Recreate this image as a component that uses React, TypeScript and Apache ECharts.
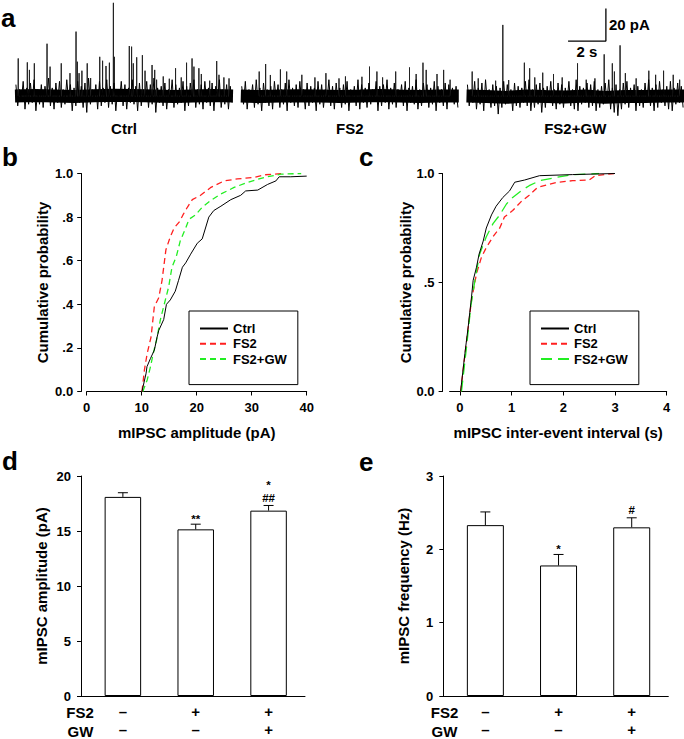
import React, { useEffect, useRef } from "react";
import * as echarts from "echarts";

const FONT = "'Liberation Sans', Arial, sans-serif";
const RED = "#ff2020";
const GREEN = "#22ee22";

// ---------- panel a : mIPSC traces (pA vs s) ----------
const traceLabels = ["Ctrl", "FS2", "FS2+GW"];
const traceSeconds = 11.5;
const ctrlBaseline = [0, 0.3, 0, -0.3, 0.2, 0.5, 0.3, 0, -0.3, 0, 0.3, 0];
const fs2Baseline = [0, -0.3, 0, 0.2, 0, -0.2, 0, 0.3, 0, -0.2, 0, 0];
const gwBaseline = [0, -0.3, -0.8, 0, -0.3, -0.5, 0, -0.8, -0.3, -0.2, 0, 0];

const ctrlHi = [7,4,9,5,8,10,4,7,6,11,5,8,9,4,10,7,5,9,6,8,11,4,7,9,5,10,6,8,4,9,7,5,10,6,8,4,9,7,11,5,6,8,4,10,7,5,9,6,8,10,4,7,9,5,8,6,10,4,7,6];
const ctrlLo = [-6,-3,-8,-5,-4,-9,-5,-7,-3,-6,-8,-4,-7,-5,-3,-9,-6,-4,-7,-10,-5,-3,-8,-6,-4,-7,-5,-9,-3,-6,-8,-4,-5,-9,-6,-3,-7,-5,-10,-4,-6,-8,-3,-7,-5,-4,-9,-6,-3,-7,-5,-8,-4,-6,-9,-3,-7,-5,-8,-4];
const fs2Hi = [6,9,4,7,10,5,8,4,6,9,7,4,8,10,5,7,9,4,8,6,5,9,7,4,10,6,8,5,7,9,4,6,10,7,5,8,4,9,6,7,10,5,8,4,7,9,5,6,10,4,8,7,5,9,6,4,8,7,5,6];
const fs2Lo = [-5,-8,-3,-7,-5,-9,-4,-6,-8,-3,-7,-5,-9,-4,-6,-7,-3,-8,-6,-4,-9,-5,-7,-3,-6,-8,-4,-7,-5,-9,-3,-6,-8,-4,-7,-5,-3,-9,-6,-4,-8,-5,-7,-3,-6,-9,-4,-5,-8,-6,-3,-7,-5,-9,-4,-6,-8,-3,-5,-7];
const gwHi = [7,4,9,5,8,10,4,7,6,5,9,7,4,8,6,5,9,10,4,7,8,5,6,9,4,8,7,5,9,4,10,6,5,8,7,9,4,6,8,10,5,7,4,8,9,5,7,6,4,8,10,5,7,9,4,6,9,5,8,6];
const gwLo = [-6,-4,-8,-5,-9,-4,-7,-6,-11,-7,-5,-4,-9,-6,-7,-4,-6,-9,-7,-5,-10,-7,-4,-6,-8,-5,-7,-4,-6,-8,-9,-5,-4,-7,-6,-9,-7,-5,-4,-8,-10,-12,-8,-5,-7,-4,-9,-6,-7,-4,-6,-9,-7,-4,-6,-8,-9,-5,-4,-7];

const ctrlSpikeT = [0.17,0.65,0.76,1.02,1.69,1.85,2.44,2.9,3.22,3.29,3.38,3.53,3.81,3.99,4.47,4.62,4.8,4.98,5.19,5.24,6.03,6.15,6.24,6.42,6.72,6.86,7.23,7.37,7.47,7.82,8.14,8.47,8.77,9.05,9.34,9.44,9.7,9.83,10.27,10.64,10.76,11.02,11.29];
const ctrlSpikeA = [23,20.6,16,20,32,18,20,14,39.4,21,14,15.5,20,11,24,21.6,18.4,20.4,57,24,30.6,30.2,20,23.7,25,15.5,19,16,10,12,10.6,17,11.4,20.4,23,18,17,13.5,9.4,21.4,13,11.4,10.8];
const fs2SpikeT = [0.97,1.31,1.56,2.09,2.42,3.22,3.91,4.49,5.18,5.52,6.39,6.79,7.18,7.48,8.17,8.9,9.25,9.61,9.78,10.35,10.7,11.04];
const fs2SpikeA = [15,19.6,12.9,16.3,15,13,11.4,14,10.8,12,11.8,18,15,11.4,15,17.5,13.5,20.4,16,13.5,16,10];
const gwSpikeT = [0.3,0.62,1.54,1.92,2.23,3.06,3.34,3.61,4.03,4.6,5.06,5.87,6.33,6.79,7.28,7.71,7.82,8.12,8.4,8.97,9.64,10.0,10.42,10.93,11.27];
const gwSpikeA = [15,10.8,9.4,43.5,9.8,20.4,17,11.4,14.3,13.5,11.4,20,10,10.8,25.5,20,15,31,14,10.8,15.5,13,15.5,13,10];

const scaleBarT = [5.37, 7.37]; // 2 s
const scaleBarPA = [33.6, 53.6]; // 20 pA

// ---------- panel b : cumulative amplitude ----------
const ampCtrl = [[10.05,0],[10.8,0.084],[10.96,0.114],[11.6,0.152],[12.3,0.19],[12.8,0.25],[13.1,0.28],[14.0,0.33],[14.5,0.40],[15.2,0.42],[16.1,0.46],[16.7,0.51],[17.4,0.57],[18.0,0.59],[18.9,0.63],[20.1,0.68],[21.0,0.70],[21.6,0.75],[22.2,0.80],[23.1,0.83],[24.4,0.85],[26.2,0.88],[28.0,0.90],[28.9,0.92],[31.1,0.924],[32.9,0.95],[34.4,0.966],[35.0,0.985],[37.1,0.985],[40,0.988]];
const ampFs2 = [[10.05,0],[10.5,0.1],[11.0,0.175],[11.7,0.25],[12.3,0.39],[13.1,0.43],[13.7,0.51],[14.4,0.65],[15.2,0.71],[15.9,0.75],[16.9,0.78],[17.5,0.81],[18.3,0.845],[19.2,0.88],[20.7,0.90],[22.5,0.935],[25.0,0.966],[27.4,0.975],[30.4,0.982],[32.3,0.994],[35.6,1.0]];
const ampGw = [[10.2,0],[11.0,0.053],[11.6,0.114],[12.1,0.175],[12.7,0.236],[13.4,0.33],[14.0,0.39],[14.9,0.48],[15.5,0.57],[16.3,0.62],[17.0,0.69],[18.0,0.75],[18.6,0.79],[19.8,0.81],[21.0,0.845],[22.5,0.875],[24.4,0.906],[26.8,0.936],[29.2,0.959],[32.3,0.982],[35.3,0.997],[39,1.0]];

// ---------- panel c : cumulative inter-event interval ----------
const intCtrl = [[0.013,0],[0.096,0.175],[0.16,0.297],[0.224,0.434],[0.256,0.51],[0.32,0.57],[0.37,0.63],[0.45,0.69],[0.51,0.75],[0.61,0.81],[0.70,0.85],[0.83,0.89],[0.96,0.92],[1.06,0.96],[1.25,0.97],[1.54,0.99],[2.18,0.995],[3.0,1.0]];
const intFs2 = [[0.013,0],[0.115,0.205],[0.224,0.42],[0.32,0.54],[0.416,0.616],[0.51,0.66],[0.64,0.71],[0.77,0.75],[0.86,0.80],[1.02,0.83],[1.18,0.87],[1.34,0.90],[1.5,0.936],[1.86,0.959],[2.18,0.967],[2.5,0.97],[2.62,0.99],[2.98,1.0]];
const intGw = [[0.03,0],[0.128,0.205],[0.21,0.39],[0.29,0.51],[0.38,0.63],[0.51,0.71],[0.64,0.77],[0.77,0.81],[0.9,0.86],[1.02,0.89],[1.18,0.92],[1.34,0.944],[1.54,0.967],[1.86,0.982],[2.18,0.994],[2.69,1.0]];

// ---------- panels d, e : bars ----------
const groups = [0, 1, 2];
const fs2Signs = ["–", "+", "+"];
const gwSigns = ["–", "–", "+"];
const ampMean = [18.1, 15.15, 16.85];
const ampSem = [0.38, 0.47, 0.47];
const ampMarks = [[], ["**"], ["##", "*"]];
const freqMean = [2.33, 1.78, 2.3];
const freqSem = [0.18, 0.15, 0.13];
const freqMarks = [[], ["*"], ["#"]];

const bold = (size: number) => ({ fontFamily: FONT, fontWeight: "bold" as const, fontSize: size, color: "#000" });

const zig = (hi: number[], lo: number[]) => {
  const n = hi.length;
  const out: number[][] = [];
  for (let i = 0; i < n; i++) {
    out.push([((i + 0.25) * traceSeconds) / n, hi[i]]);
    out.push([((i + 0.75) * traceSeconds) / n, lo[i]]);
  }
  return out;
};
const spikes = (ts: number[], as: number[]) => ts.flatMap((t, i) => [[t, 0], [t, as[i]], [t, 0]]);
const base = (b: number[]) => b.map((v, i) => [(i * traceSeconds) / (b.length - 1), v]);

function buildOption() {
  const traces = [
    { base: ctrlBaseline, hi: ctrlHi, lo: ctrlLo, t: ctrlSpikeT, a: ctrlSpikeA },
    { base: fs2Baseline, hi: fs2Hi, lo: fs2Lo, t: fs2SpikeT, a: fs2SpikeA },
    { base: gwBaseline, hi: gwHi, lo: gwLo, t: gwSpikeT, a: gwSpikeA },
  ];
  const traceLeft = [15, 240.8, 466.5];

  const grid: any[] = [];
  const xAxis: any[] = [];
  const yAxis: any[] = [];
  const series: any[] = [];

  traces.forEach((tr, k) => {
    grid.push({ left: traceLeft[k], top: 1.2, width: 218, height: 114.5 });
    xAxis.push({
      gridIndex: k, type: "value", min: 0, max: traceSeconds,
      axisLine: { show: false, onZero: false }, axisTick: { show: false }, axisLabel: { show: false }, splitLine: { show: false },
      name: traceLabels[k], nameLocation: "middle", nameGap: 5, nameTextStyle: bold(15),
    });
    yAxis.push({ gridIndex: k, type: "value", min: -12, max: 58, show: false, splitLine: { show: false } });
    series.push({ type: "line", xAxisIndex: k, yAxisIndex: k, data: base(tr.base), symbol: "none", silent: true, lineStyle: { color: "#000", width: 13 }, z: 1 });
    series.push({ type: "line", xAxisIndex: k, yAxisIndex: k, data: spikes(tr.t, tr.a), symbol: "none", silent: true, lineStyle: { color: "#222", width: 1 }, z: 2 });
    series.push({ type: "line", xAxisIndex: k, yAxisIndex: k, data: zig(tr.hi, tr.lo), symbol: "none", silent: true, lineStyle: { color: "#000", width: 1 }, z: 3 });
  });
  // scale bar
  series.push({
    type: "line", xAxisIndex: 2, yAxisIndex: 2, silent: true, symbol: "circle", symbolSize: 0,
    lineStyle: { color: "#000", width: 1.3 },
    data: [
      [scaleBarT[0], scaleBarPA[0]],
      { value: [(scaleBarT[0] + scaleBarT[1]) / 2, scaleBarPA[0]], label: { show: true, formatter: "2 s", position: "bottom", distance: 3, ...bold(15) } },
      [scaleBarT[1], scaleBarPA[0]],
      { value: [scaleBarT[1], (scaleBarPA[0] + scaleBarPA[1]) / 2], label: { show: true, formatter: "20 pA", position: "right", distance: 3, ...bold(15) } },
      [scaleBarT[1], scaleBarPA[1]],
    ],
    z: 5,
  });

  const axLine = { show: true, onZero: false, lineStyle: { color: "#000", width: 1 } };
  const axTick = { show: true, length: 4, lineStyle: { color: "#000", width: 1 } };

  // panel b (index 3)
  grid.push({ left: 86.7, top: 173.5, width: 220, height: 218 });
  xAxis.push({
    gridIndex: 3, type: "value", min: 0, max: 40, interval: 10, axisLine: axLine, axisTick: axTick,
    axisLabel: { margin: 9, ...bold(13) }, splitLine: { show: false },
    name: "mIPSC amplitude (pA)", nameLocation: "middle", nameGap: 33, nameTextStyle: bold(15),
  });
  yAxis.push({
    gridIndex: 3, type: "value", min: 0, max: 1, interval: 0.2, offset: 5.5, axisLine: axLine, axisTick: axTick,
    axisLabel: { margin: 8, ...bold(13), formatter: (v: number) => (v === 0 ? "0.0" : v === 1 ? "1.0" : "." + Math.round(v * 10)) },
    splitLine: { show: false },
    name: "Cumulative probability", nameLocation: "middle", nameGap: 31.5, nameTextStyle: bold(15),
  });
  // panel c (index 4)
  grid.push({ left: 449.6, top: 173.5, width: 217.1, height: 218 });
  xAxis.push({
    gridIndex: 4, type: "value", min: -0.2, max: 4, axisLine: axLine,
    axisTick: { ...axTick, customValues: [0, 1, 2, 3, 4] },
    axisLabel: { margin: 9, ...bold(13), customValues: [0, 1, 2, 3, 4] }, splitLine: { show: false },
    name: "mIPSC inter-event interval (s)", nameLocation: "middle", nameGap: 33, nameTextStyle: bold(15),
  });
  yAxis.push({
    gridIndex: 4, type: "value", min: 0, max: 1, interval: 0.5, offset: 7, axisLine: axLine, axisTick: axTick,
    axisLabel: { margin: 8, ...bold(13), formatter: (v: number) => (v === 0 ? "0.0" : v === 1 ? "1.0" : ".5") },
    splitLine: { show: false },
    name: "Cumulative probability", nameLocation: "middle", nameGap: 27, nameTextStyle: bold(15),
  });

  const cdf = (name: string, data: number[][], idx: number, color: string, type: any, width: number) => ({
    type: "line", name, xAxisIndex: idx, yAxisIndex: idx, data, symbol: "none", silent: true,
    lineStyle: { color, width, type }, itemStyle: { color }, z: color === "#000" ? 4 : 3,
  });
  series.push(cdf("FS2", ampFs2, 3, RED, [6, 4], 1.3));
  series.push(cdf("FS2+GW", ampGw, 3, GREEN, [6, 4], 1.3));
  series.push(cdf("Ctrl", ampCtrl, 3, "#000", "solid", 1));
  series.push(cdf("FS2 ", intFs2, 4, RED, [6, 4], 1.3));
  series.push(cdf("FS2+GW ", intGw, 4, GREEN, [11, 6], 1.3));
  series.push(cdf("Ctrl ", intCtrl, 4, "#000", "solid", 1));

  // bar panels
  const barPanel = (idx: number, left: number, width: number, max: number, interval: number, title: string, gap: number, ymargin: number) => {
    grid.push({ left, top: 476, width, height: 220.5 });
    xAxis.push({
      gridIndex: idx, type: "value", min: -0.575, max: 2.5, axisLine: axLine, axisTick: { show: false },
      axisLabel: { customValues: groups, margin: 6, ...bold(15), lineHeight: 18.5, formatter: (v: number) => fs2Signs[v] + "\n" + gwSigns[v] },
      splitLine: { show: false },
    });
    yAxis.push({
      gridIndex: idx, type: "value", min: 0, max, interval, axisLine: axLine, axisTick: axTick,
      axisLabel: { margin: ymargin, ...bold(13) }, splitLine: { show: false },
      name: title, nameLocation: "middle", nameGap: gap, nameTextStyle: bold(15),
    });
  };
  barPanel(5, 81, 224, 20, 5, "mIPSC amplitude (pA)", 31.8, 10);
  barPanel(6, 443.3, 225, 3, 1, "mIPSC frequency (Hz)", 32.5, 10);

  const bars = (idx: number, mean: number[], sem: number[], marks: string[][], bw: number) => {
    series.push({
      type: "bar", xAxisIndex: idx, yAxisIndex: idx, barWidth: bw, silent: true,
      data: groups.map((g) => [g, mean[g]]),
      itemStyle: { color: "#fff", borderColor: "#000", borderWidth: 1 }, z: 2,
    });
    series.push({
      type: "custom", xAxisIndex: idx, yAxisIndex: idx, silent: true, z: 3,
      data: groups.map((g) => [g, mean[g], sem[g]]),
      renderItem: (params: any, api: any) => {
        const x = api.value(0), m = api.value(1), e = api.value(2);
        const p0 = api.coord([x, m]);
        const p1 = api.coord([x, m + e]);
        const children: any[] = [
          { type: "line", shape: { x1: p0[0], y1: p0[1], x2: p1[0], y2: p1[1] }, style: { stroke: "#000", lineWidth: 1 } },
          { type: "line", shape: { x1: p1[0] - 5, y1: p1[1], x2: p1[0] + 5, y2: p1[1] }, style: { stroke: "#000", lineWidth: 1 } },
        ];
        marks[params.dataIndex].forEach((t, k) => {
          const y = p1[1] - 7.5 - k * 13 + (k === 0 && t.indexOf("*") >= 0 ? 2.5 : 0);
          children.push({
            type: "text",
            style: { text: t, x: p1[0], y, align: "center", verticalAlign: "middle", textAlign: "center", textVerticalAlign: "middle", font: `bold 11.5px ${FONT}`, lineHeight: 8, fill: "#000" },
          });
        });
        return { type: "group", children };
      },
    });
  };
  bars(5, ampMean, ampSem, ampMarks, 36.5);
  bars(6, freqMean, freqSem, freqMarks, 37);

  const legendBase = {
    orient: "vertical", top: 311, borderColor: "#000", borderWidth: 1, borderRadius: 0,
    padding: [11, 11, 19, 10], itemWidth: 28, itemHeight: 10, itemGap: 2.3, selectedMode: false,
    itemStyle: { opacity: 0 },
    textStyle: { ...bold(13), lineHeight: 13 },
  };
  const legend = [
    { ...legendBase, left: 189, data: ["Ctrl", "FS2", "FS2+GW"] },
    { ...legendBase, left: 530, data: ["Ctrl ", "FS2 ", "FS2+GW "], formatter: (n: string) => n.trim() },
  ];

  const txt = (text: string, x: number, y: number, size: number, align = "left") => ({
    type: "text", x, y, silent: true,
    style: { text, font: `bold ${size}px ${FONT}`, fill: "#000", align, textAlign: align, verticalAlign: "middle", textVerticalAlign: "middle", lineHeight: size },
  });
  const graphic = [
    txt("a", 1, 17.6, 26),
    txt("b", 2, 157, 26),
    txt("c", 359, 157, 26),
    txt("d", 2, 461, 26),
    txt("e", 359, 461.5, 26),
    txt("FS2", 80, 712.8, 15, "center"),
    txt("GW", 80.5, 731.2, 15, "center"),
    txt("FS2", 444.5, 712.8, 15, "center"),
    txt("GW", 444.5, 731.2, 15, "center"),
  ];

  return { animation: false, backgroundColor: "#fff", textStyle: { fontFamily: FONT }, grid, xAxis, yAxis, series, legend, graphic };
}

export default function App() {
  const ref = useRef<HTMLDivElement>(null);
  useEffect(() => {
    const chart = echarts.init(ref.current!, null, { renderer: "svg" });
    chart.setOption(buildOption() as any);
    return () => chart.dispose();
  }, []);
  return <div ref={ref} style={{ position: "fixed", left: 0, top: 0, width: 684, height: 739, background: "#fff" }} />;
}
